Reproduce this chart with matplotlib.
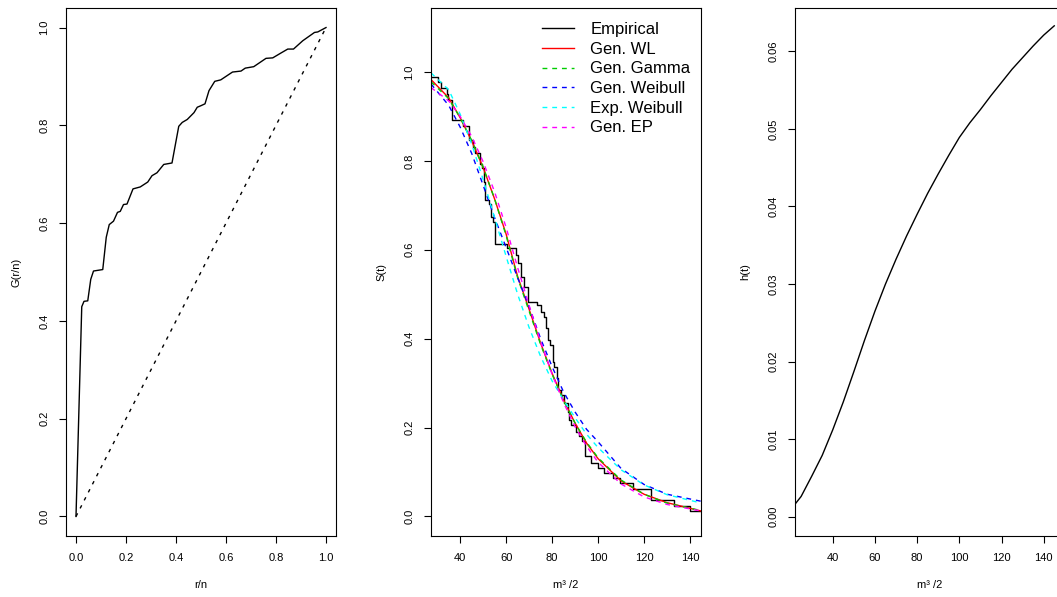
import numpy as np
import matplotlib
matplotlib.use("Agg")
import matplotlib.pyplot as plt

plt.rcParams['font.family'] = ['Liberation Sans', 'DejaVu Sans']

# ---- panel 1: TTT plot ----
ttt_x = [0.0, 0.023, 0.032, 0.047, 0.059, 0.070, 0.107, 0.121, 0.133, 0.150,
         0.166, 0.177, 0.190, 0.204, 0.228, 0.257, 0.287, 0.304, 0.324, 0.351,
         0.384, 0.398, 0.411, 0.425, 0.445, 0.472, 0.485, 0.499, 0.516, 0.532,
         0.555, 0.579, 0.626, 0.660, 0.677, 0.711, 0.760, 0.787, 0.820, 0.847,
         0.870, 0.907, 0.954, 0.967, 1.0]
ttt_g = [0.0, 0.429, 0.440, 0.441, 0.485, 0.502, 0.505, 0.571, 0.597, 0.604,
         0.622, 0.624, 0.638, 0.639, 0.670, 0.674, 0.684, 0.697, 0.703, 0.720,
         0.723, 0.762, 0.798, 0.806, 0.812, 0.826, 0.837, 0.840, 0.844, 0.871,
         0.890, 0.893, 0.909, 0.911, 0.917, 0.920, 0.937, 0.938, 0.948, 0.956,
         0.956, 0.973, 0.990, 0.991, 1.0]

# ---- panel 2: survival ----
km_t = [27.0, 30.5, 31.6, 34.4, 34.8, 36.4, 41.2, 43.7, 45.6, 46.6, 48.5, 49.5,
        50.2, 51.0, 52.4, 53.2, 54.3, 55.3, 60.5, 64.1, 65.2, 66.4, 67.8, 69.3,
        73.6, 75.1, 76.6, 77.3, 78.0, 79.2, 80.2, 81.0, 82.1, 82.7, 83.9, 85.3,
        86.8, 87.5, 88.3, 90.5, 91.5, 92.9, 94.4, 97.0, 99.9, 102.6, 106.5,
        109.5, 115.4, 123.1, 133.2, 139.9, 150.0]
km_s = [0.989, 0.978, 0.963, 0.950, 0.936, 0.893, 0.878, 0.847, 0.832, 0.817,
        0.794, 0.783, 0.753, 0.712, 0.704, 0.674, 0.663, 0.614, 0.603, 0.588,
        0.570, 0.539, 0.517, 0.483, 0.476, 0.459, 0.449, 0.423, 0.397, 0.386,
        0.348, 0.337, 0.311, 0.285, 0.273, 0.255, 0.236, 0.217, 0.206, 0.191,
        0.180, 0.169, 0.135, 0.121, 0.109, 0.097, 0.086, 0.075, 0.062, 0.038,
        0.024, 0.013, 0.013]

fit_t = [27.3, 35, 40, 45, 50, 55, 60, 65, 70, 75, 80, 85, 90, 95, 100, 110,
         120, 130, 145]
s_gwl = [0.983, 0.942, 0.897, 0.845, 0.785, 0.714, 0.635, 0.540, 0.466, 0.390,
         0.322, 0.262, 0.210, 0.165, 0.130, 0.080, 0.050, 0.031, 0.012]
s_ggamma = [0.978, 0.940, 0.897, 0.846, 0.786, 0.714, 0.632, 0.537, 0.462,
            0.387, 0.320, 0.261, 0.210, 0.167, 0.132, 0.082, 0.050, 0.030, 0.013]
s_gweib = [0.973, 0.925, 0.876, 0.817, 0.745, 0.672, 0.605, 0.537, 0.472, 0.400,
           0.337, 0.280, 0.235, 0.196, 0.168, 0.108, 0.072, 0.050, 0.034]
s_eweib = [0.998, 0.960, 0.905, 0.838, 0.758, 0.672, 0.585, 0.500, 0.425, 0.360,
           0.305, 0.262, 0.222, 0.185, 0.155, 0.105, 0.071, 0.049, 0.030]
s_gep = [0.965, 0.935, 0.900, 0.855, 0.798, 0.730, 0.650, 0.560, 0.475, 0.393,
         0.320, 0.256, 0.202, 0.158, 0.122, 0.073, 0.044, 0.027, 0.012]

# ---- panel 3: hazard ----
haz_t = [22.1, 25, 30, 35, 40, 45, 50, 55, 60, 65, 70, 75, 80, 85, 90, 95, 100,
         105, 110, 115, 120, 125, 130, 135, 140, 145]
haz_h = [0.0016, 0.0026, 0.0052, 0.0079, 0.0112, 0.0148, 0.0187, 0.0227,
         0.0265, 0.0300, 0.0332, 0.0362, 0.0390, 0.0417, 0.0442, 0.0466,
         0.0489, 0.0508, 0.0525, 0.0543, 0.0560, 0.0577, 0.0592, 0.0607,
         0.0621, 0.0633]

W, H = 1057, 597
fig = plt.figure(figsize=(W / 100, H / 100), dpi=100)


def make_axes(x0):
    ax = fig.add_axes([x0 / W, (H - 536) / H, 270 / W, 528 / H])
    for s in ax.spines.values():
        s.set_linewidth(0.8)
    ax.tick_params(direction='out', length=5, width=0.8, labelsize=8, pad=7)
    ax.tick_params(axis='y', labelrotation=90)
    return ax


def finish(ax, xlab, ylab):
    ax.set_xlabel(xlab, fontsize=8, va='center')
    ax.set_ylabel(ylab, fontsize=8, va='center')
    ax.xaxis.set_label_coords(0.5, -49 / 528)
    ax.yaxis.set_label_coords(-50 / 270, 0.5)
    for lab in ax.get_yticklabels():
        lab.set_va('center')


dash = (0, (3.5, 3.5))

# panel 1
ax1 = make_axes(66)
ax1.plot(ttt_x, ttt_g, color='black', lw=1.0)
ax1.plot([0, 1], [0, 1], color='black', lw=1.0, linestyle=(0, (2.5, 4)))
ax1.set_xlim(-0.04, 1.04)
ax1.set_ylim(-0.04, 1.04)
ax1.set_xticks([0, 0.2, 0.4, 0.6, 0.8, 1.0])
ax1.set_yticks([0, 0.2, 0.4, 0.6, 0.8, 1.0])
ax1.set_xticklabels(['0.0', '0.2', '0.4', '0.6', '0.8', '1.0'])
ax1.set_yticklabels(['0.0', '0.2', '0.4', '0.6', '0.8', '1.0'])
finish(ax1, 'r/n', 'G(r/n)')

# panel 2
ax2 = make_axes(431)
ax2.plot(km_t, km_s, color='black', lw=1.0, drawstyle='steps-post',
         label='Empirical')
ax2.plot(fit_t, s_gwl, color='#FF0000', lw=1.0, label='Gen. WL')
ax2.plot(fit_t, s_ggamma, color='#00CD00', lw=1.0, linestyle=dash,
         label='Gen. Gamma')
ax2.plot(fit_t, s_gweib, color='#0000FF', lw=1.0, linestyle=dash,
         label='Gen. Weibull')
ax2.plot(fit_t, s_eweib, color='#00FFFF', lw=1.0, linestyle=dash,
         label='Exp. Weibull')
ax2.plot(fit_t, s_gep, color='#FF00FF', lw=1.0, linestyle=dash,
         label='Gen. EP')
ax2.set_xlim(27.3, 144.8)
ax2.set_ylim(-0.044, 1.144)
ax2.set_xticks([40, 60, 80, 100, 120, 140])
ax2.set_yticks([0, 0.2, 0.4, 0.6, 0.8, 1.0])
ax2.set_yticklabels(['0.0', '0.2', '0.4', '0.6', '0.8', '1.0'])
ax2.legend(loc='upper left', bbox_to_anchor=(542 / W, 1 - 22 / H),
           bbox_transform=fig.transFigure, frameon=False, fontsize=12,
           borderpad=0, borderaxespad=0, handlelength=1.94,
           handletextpad=0.96, labelspacing=0.28)
finish(ax2, 'm³ /2', 'S(t)')

# panel 3
ax3 = make_axes(795)
ax3.plot(haz_t, haz_h, color='black', lw=1.0)
ax3.set_xlim(22.1, 150.1)
ax3.set_ylim(-0.0025, 0.0656)
ax3.set_xticks([40, 60, 80, 100, 120, 140])
ax3.set_yticks([0, 0.01, 0.02, 0.03, 0.04, 0.05, 0.06])
ax3.set_yticklabels(['0.00', '0.01', '0.02', '0.03', '0.04', '0.05', '0.06'])
finish(ax3, 'm³ /2', 'h(t)')

fig.savefig('out.png', dpi=100)
